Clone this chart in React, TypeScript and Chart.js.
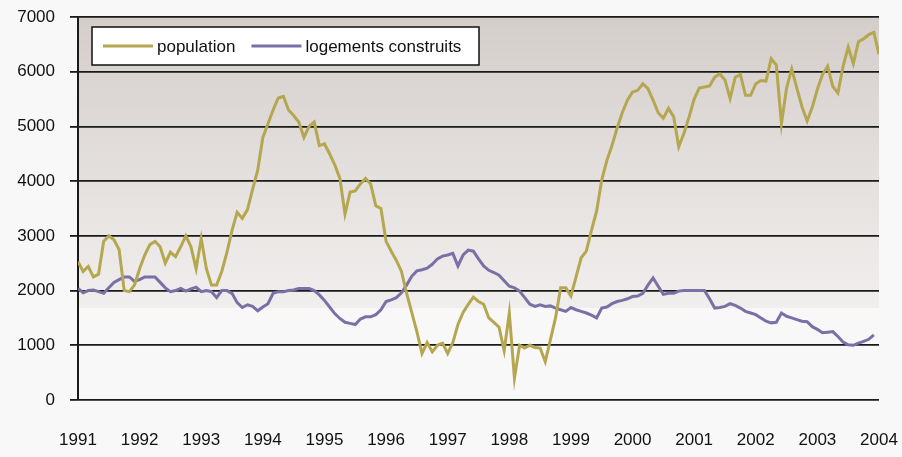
import { useEffect, useRef } from "react";
import { Chart, registerables } from "chart.js";

Chart.register(...registerables);

const START_YEAR = 1991;
const END_YEAR = 2004;
const Y_MAX = 7000;
const Y_STEP = 1000;
const seriesNames = ["population", "logements construits"];

// monthly values, Jan 1991 .. Jan 2004
const population = [
  2530, 2350, 2440, 2250, 2300, 2900, 3000, 2930, 2750, 2000, 1980, 2100,
  2400, 2650, 2840, 2900, 2800, 2500, 2700, 2620, 2800, 3000, 2800, 2400,
  2950, 2400, 2100, 2100, 2350, 2700, 3100, 3430, 3320, 3480, 3850, 4200,
  4800, 5050, 5300, 5520, 5550, 5300, 5200, 5080, 4800, 5000, 5080, 4650,
  4680, 4500, 4300, 4050, 3400, 3800, 3820, 3950, 4050, 3950, 3550, 3500,
  2900, 2720, 2550, 2350, 1950, 1600, 1250, 850, 1050, 880, 1000, 1040,
  850, 1050, 1380, 1600, 1750, 1880, 1800, 1750, 1500, 1420, 1330, 900,
  1590, 400, 1000, 950, 1000, 960, 950, 700, 1100, 1500, 2050, 2050,
  1900, 2250, 2600, 2720, 3100, 3450, 4020, 4380, 4650, 4970, 5250, 5480,
  5630, 5660, 5780, 5690, 5480, 5250, 5150, 5330, 5180, 4630, 4870, 5170,
  5500, 5700, 5720, 5740, 5900, 5960, 5850, 5510, 5900, 5950, 5570, 5570,
  5780, 5840, 5830, 6240, 6120, 5050, 5700, 6050, 5700, 5360, 5100, 5350,
  5680, 5950, 6100, 5730, 5610, 6100, 6450, 6150, 6550, 6600, 6680, 6720,
  6320,
];

const logements = [
  2040, 1960, 2000, 2010, 1980, 1950, 2050, 2150, 2200, 2250, 2250, 2170,
  2200, 2250, 2250, 2250, 2150, 2050, 1980, 2000, 2040, 1990, 2030, 2060,
  1980, 2000, 1980, 1870, 2000, 2000, 1950, 1780, 1690, 1740, 1710, 1630,
  1700, 1760, 1950, 1980, 1980, 2000, 2010, 2040, 2040, 2040, 2000, 1920,
  1820, 1700, 1580, 1490, 1420, 1400, 1380, 1480, 1520, 1520, 1560, 1650,
  1800, 1830, 1870, 1960, 2100, 2260, 2360, 2380, 2410, 2480, 2580, 2630,
  2650, 2680, 2450, 2650, 2740, 2720, 2580, 2450, 2370, 2330, 2280, 2180,
  2080, 2050, 1990, 1870, 1750, 1710, 1740, 1710, 1720, 1680, 1650, 1620,
  1690, 1650, 1620, 1590, 1550, 1500, 1680, 1700, 1760, 1800, 1820, 1850,
  1890, 1900, 1950, 2100, 2230, 2080, 1930, 1950, 1950, 1990, 2000, 2000,
  2000, 2000, 2000, 1850, 1680, 1690, 1710, 1760, 1730, 1680, 1620, 1590,
  1560, 1500, 1440, 1410, 1420, 1590, 1530, 1500, 1470, 1440, 1430, 1340,
  1290, 1230, 1240, 1250, 1160, 1060, 1010, 1000, 1040, 1070, 1110, 1190,
  null,
];

const COLORS = ["#b5a650", "#7a70a6"];
const FONT = "'Liberation Sans', Arial, sans-serif";

const toPoints = (arr: (number | null)[]) =>
  arr.map((v, i) => ({ x: START_YEAR + i / 12, y: v }));

const bgPlugin = {
  id: "bg",
  beforeDraw(chart: any) {
    const { ctx, chartArea, width, height } = chart;
    ctx.save();
    ctx.fillStyle = "#f8f8f8";
    ctx.fillRect(0, 0, width, height);
    const yScale = chart.scales.y;
    const cut = yScale.getPixelForValue(1680);
    const g = ctx.createLinearGradient(0, chartArea.top, 0, cut);
    g.addColorStop(0, "#d4cecb");
    g.addColorStop(1, "#f1efee");
    ctx.fillStyle = g;
    ctx.fillRect(chartArea.left, chartArea.top, chartArea.right - chartArea.left, cut - chartArea.top);
    ctx.fillStyle = "#f8f8f8";
    ctx.fillRect(chartArea.left, cut, chartArea.right - chartArea.left, chartArea.bottom - cut);
    ctx.restore();
  },
};

const legendPlugin = {
  id: "customLegend",
  afterDraw(chart: any) {
    const { ctx, chartArea } = chart;
    const x0 = chartArea.left + 14;
    const y0 = chartArea.top + 10;
    const w = 387;
    const h = 38;
    ctx.save();
    ctx.fillStyle = "#ffffff";
    ctx.fillRect(x0, y0, w, h);
    ctx.strokeStyle = "#111111";
    ctx.lineWidth = 1.5;
    ctx.strokeRect(x0, y0, w, h);
    ctx.font = `17px ${FONT}`;
    ctx.textBaseline = "middle";
    ctx.textAlign = "left";
    const cy = y0 + h / 2;
    let x = x0 + 11;
    seriesNames.forEach((name, i) => {
      ctx.strokeStyle = COLORS[i];
      ctx.lineWidth = 3;
      ctx.beginPath();
      ctx.moveTo(x, cy);
      ctx.lineTo(x + 50, cy);
      ctx.stroke();
      ctx.fillStyle = "#111111";
      ctx.fillText(name, x + 54, cy + 1);
      x += 54 + ctx.measureText(name).width + 16;
    });
    ctx.restore();
  },
};

export default function App() {
  const ref = useRef<HTMLCanvasElement | null>(null);

  useEffect(() => {
    document.body.style.margin = "0";
    const canvas = ref.current;
    if (!canvas) return;
    const chart = new Chart(canvas, {
      type: "line",
      data: {
        datasets: [
          {
            label: seriesNames[0],
            data: toPoints(population),
            borderColor: COLORS[0],
            backgroundColor: COLORS[0],
            borderWidth: 3,
            pointRadius: 0,
            tension: 0,
          },
          {
            label: seriesNames[1],
            data: toPoints(logements),
            borderColor: COLORS[1],
            backgroundColor: COLORS[1],
            borderWidth: 3,
            pointRadius: 0,
            tension: 0,
          },
        ],
      },
      options: {
        animation: false,
        responsive: false,
        maintainAspectRatio: false,
        layout: { padding: 0 },
        plugins: {
          legend: { display: false },
          tooltip: { enabled: false },
        },
        scales: {
          x: {
            type: "linear",
            min: START_YEAR,
            max: END_YEAR,
            grid: { display: false, drawTicks: false },
            border: { display: false },
            ticks: {
              stepSize: 1,
              autoSkip: false,
              maxRotation: 0,
              padding: 30,
              color: "#111111",
              font: { family: FONT, size: 17 },
              callback: (v: any) => String(v),
            },
            afterFit: (s: any) => {
              s.height = 57;
              s.paddingLeft = 0;
              s.paddingRight = 23;
            },
          },
          y: {
            min: 0,
            max: Y_MAX,
            grid: {
              color: "#1a1a1a",
              lineWidth: 1.8,
              drawTicks: true,
              tickLength: 8,
              tickColor: "#1a1a1a",
            },
            border: { display: true, color: "#1a1a1a", width: 2 },
            ticks: {
              stepSize: Y_STEP,
              padding: 15,
              color: "#111111",
              font: { family: FONT, size: 17 },
              callback: (v: any) => String(v),
            },
            afterFit: (s: any) => {
              s.width = 78;
              s.paddingTop = 17;
              s.paddingBottom = 0;
            },
          },
        },
      },
      plugins: [bgPlugin, legendPlugin],
    });
    return () => chart.destroy();
  }, []);

  return (
    <div style={{ width: 902, height: 457 }}>
      <canvas ref={ref} width={902} height={457} style={{ display: "block" }} />
    </div>
  );
}
